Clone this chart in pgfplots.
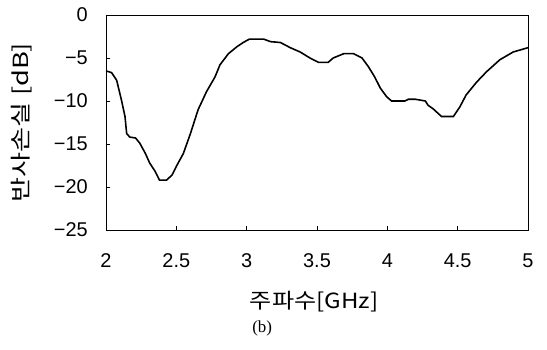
\documentclass[border=0pt]{standalone}
\usepackage{fontspec}
\setmainfont{Liberation Sans}
\newfontfamily\kr{Noto Sans CJK KR}
\newfontfamily\serif{Liberation Serif}
\usepackage{graphicx}
\usepackage{pgfplots}
\pgfplotsset{compat=1.18}
\begin{document}
\begin{tikzpicture}[x=1bp,y=1bp]
\begin{axis}[
  at={(0,0)}, anchor=south west,
  width=422bp, height=215bp, scale only axis,
  xmin=2, xmax=5, ymin=-25, ymax=0,
  xtick={2,2.5,3,3.5,4,4.5,5},
  xticklabels={2,2.5,3,3.5,4,4.5,5},
  ytick={-25,-20,-15,-10,-5,0},
  yticklabels={−25,−20,−15,−10,−5,0},
  tick align=inside, xtick pos=bottom, ytick pos=left,
  major tick length=4bp,
  tick style={black, line width=0.6pt},
  axis line style={black, line width=0.8pt},
  tick label style={font=\fontsize{20}{24}\selectfont},
  xticklabel style={anchor=center, yshift=-31bp},
  yticklabel style={anchor=east, inner sep=0pt, xshift=-18bp},
  xlabel={\kr\scalebox{1.15}[1]{주파수[GHz]}},
  ylabel={\kr\scalebox{1.3}[1]{반사손실 [dB]}},
  xlabel style={font=\fontsize{21}{24}\selectfont, at={(axis description cs:0.493,-0.335)}, anchor=center},
  ylabel style={font=\fontsize{21}{24}\selectfont, at={(axis description cs:-0.199,0.5)}, anchor=center},
  clip=false,
]
\addplot[black, line width=1.6pt] coordinates {
(2.00,-6.5) (2.04,-6.7) (2.076,-7.6) (2.11,-9.9) (2.135,-11.8) (2.147,-13.8)
(2.17,-14.2) (2.21,-14.3) (2.24,-14.9) (2.28,-16.1) (2.31,-17.2) (2.35,-18.2)
(2.38,-19.2) (2.43,-19.2) (2.47,-18.6) (2.50,-17.6) (2.55,-16.1) (2.60,-13.8)
(2.655,-11.0) (2.715,-8.9) (2.775,-7.2) (2.81,-5.8) (2.87,-4.5) (2.93,-3.7)
(2.975,-3.2) (3.02,-2.8) (3.12,-2.8) (3.17,-3.1) (3.24,-3.2) (3.31,-3.8)
(3.38,-4.3) (3.45,-5.0) (3.51,-5.5) (3.58,-5.5) (3.615,-5.0) (3.69,-4.5)
(3.76,-4.5) (3.82,-5.0) (3.865,-6.0) (3.91,-7.2) (3.95,-8.5) (3.995,-9.5)
(4.03,-10.0) (4.125,-10.0) (4.15,-9.8) (4.20,-9.8) (4.27,-10.0) (4.29,-10.5)
(4.325,-10.9) (4.385,-11.8) (4.47,-11.8) (4.515,-10.7) (4.56,-9.3) (4.635,-7.8)
(4.705,-6.6) (4.80,-5.2) (4.895,-4.3) (5.00,-3.8)
};
\node[font=\serif\fontsize{17}{20}\selectfont, anchor=center] at (axis description cs:0.37,-0.456) {(b)};
\end{axis}
\pgfresetboundingbox
\path (-106bp,-120bp) rectangle (441bp,230bp);
\end{tikzpicture}
\end{document}
